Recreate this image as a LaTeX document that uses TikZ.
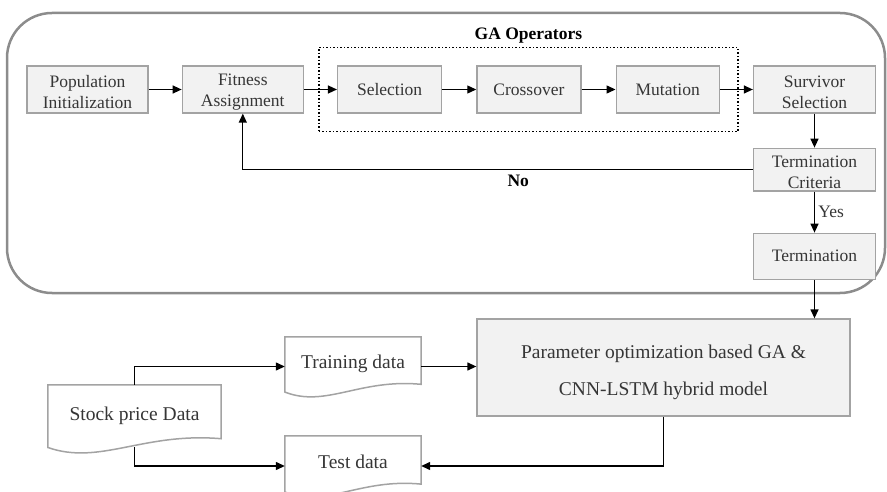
\documentclass[tikz,border=0pt]{standalone}
\usepackage{fontspec}
\setmainfont{Liberation Serif}
\usepackage{xcolor}
\usepackage{tikz}
\usetikzlibrary{arrows.meta,positioning,calc,fit}
\definecolor{boxfill}{HTML}{F2F2F2}
\definecolor{boxline}{HTML}{A3A3A3}
\definecolor{outerline}{HTML}{8C8C8C}
\definecolor{textgray}{HTML}{363636}

% document shape with a wavy bottom, drawn round a plain node
\newcommand{\docwave}[1]{%
  \draw[boxline,line width=1.5pt,fill=white] let \p1=(#1.south west), \p2=(#1.north east),
    \n1={\x2-\x1}, \n2={\y2-\y1} in
    (\x1,\y2) -- (\x2,\y2) -- (\x2,{\y1+0.2*\n2})
    .. controls ({\x1+0.55*\n1},{\y1+0.3*\n2}) and ({\x1+0.3*\n1},{\y1-0.2*\n2}) ..
    (\x1,{\y1+0.07*\n2}) -- cycle;}

\begin{document}
\begin{tikzpicture}[x=1pt,y=-1pt,text=textgray,
   font=\fontsize{17.5}{21.5}\selectfont,node distance=33pt,
   box/.style={draw=boxline,line width=1.3pt,fill=boxfill,minimum width=121pt,
               minimum height=47pt,align=center,inner sep=2pt},
   opbox/.style={box,minimum width=104pt},
   doc/.style={minimum width=136pt,minimum height=59pt,inner sep=2pt,
               font=\fontsize{19.5}{23}\selectfont,text height=13.5pt,text depth=9.5pt},
   arr/.style={-{Triangle[length=9pt,width=8pt]},line width=1.3pt,black},
   lbl/.style={font=\fontsize{17.5}{21}\selectfont\bfseries,text=black}]
  \useasboundingbox (0,0) rectangle (887,492);
  \draw[outerline,line width=2.5pt,rounded corners=45pt] (7,13) rectangle (885,293);

  % GA loop
  \node[box] (pop) at (87.5,89.5) {\rule{0pt}{17pt}Population\\Initialization};
  \node[box,right=of pop] (fit) {\rule{0pt}{17pt}Fitness\\Assignment};
  \node[opbox,right=of fit] (sel) {Selection};
  \node[opbox,right=34pt of sel] (cross) {Crossover};
  \node[opbox,right=34pt of cross,minimum width=103pt] (mut) {Mutation};
  \node[box,right=of mut,minimum width=122pt] (surv) {\rule{0pt}{17pt}Survivor\\Selection};
  \node[box,below=34pt of surv,minimum width=122pt,minimum height=42pt] (crit) {\rule{0pt}{17pt}Termination\\Criteria};
  \node[box,below=41pt of crit,minimum width=122pt,minimum height=46pt] (term) {Termination};
  \node[draw,dotted,line width=1.5pt,fit=(sel)(cross)(mut),inner sep=18pt] (ops) {};
  \node[lbl,above=0pt of ops] {GA Operators};

  \draw[arr] (pop) -- (fit);
  \draw[arr] (fit) -- (sel);
  \draw[arr] (sel) -- (cross);
  \draw[arr] (cross) -- (mut);
  \draw[arr] (mut) -- (surv);
  \draw[arr] (surv) -- (crit);
  \draw[arr] (crit) -- node[right,font=\fontsize{17.5}{21}\selectfont,text=textgray] {Yes} (term);
  \draw[arr] (crit.west) -| node[lbl,below=1pt,pos=0.23] {No} (fit.south);

  % model and data
  \node[box,minimum width=373pt,minimum height=97pt,font=\fontsize{19.5}{37}\selectfont] (hyb)
    at (663.5,367.5) {\rule{0pt}{24pt}Parameter optimization based GA \&\\CNN-LSTM hybrid model};
  \node[doc] (train) at (353,366.5) {};
  \node[doc,minimum width=173pt,minimum height=67pt] (stock) at (134.5,418.5) {};
  \node[doc,minimum height=60pt] (test) at (353,466) {};
  \docwave{train}
  \docwave{stock}
  \docwave{test}
  \node[doc] at (train) {Training data};
  \node[doc,minimum width=173pt,minimum height=67pt] at (stock) {Stock price Data};
  \node[doc,minimum height=60pt] at (test) {Test data};

  \draw[arr] (term.south) -- (term.south |- hyb.north);
  \draw[arr] (stock.north) |- (train.west);
  \draw[arr] ([yshift=5pt]stock.south) |- (test.west);
  \draw[arr] (train.east) -- (train.east -| hyb.west);
  \draw[arr] (hyb.south) |- (test.east);
\end{tikzpicture}
\end{document}
